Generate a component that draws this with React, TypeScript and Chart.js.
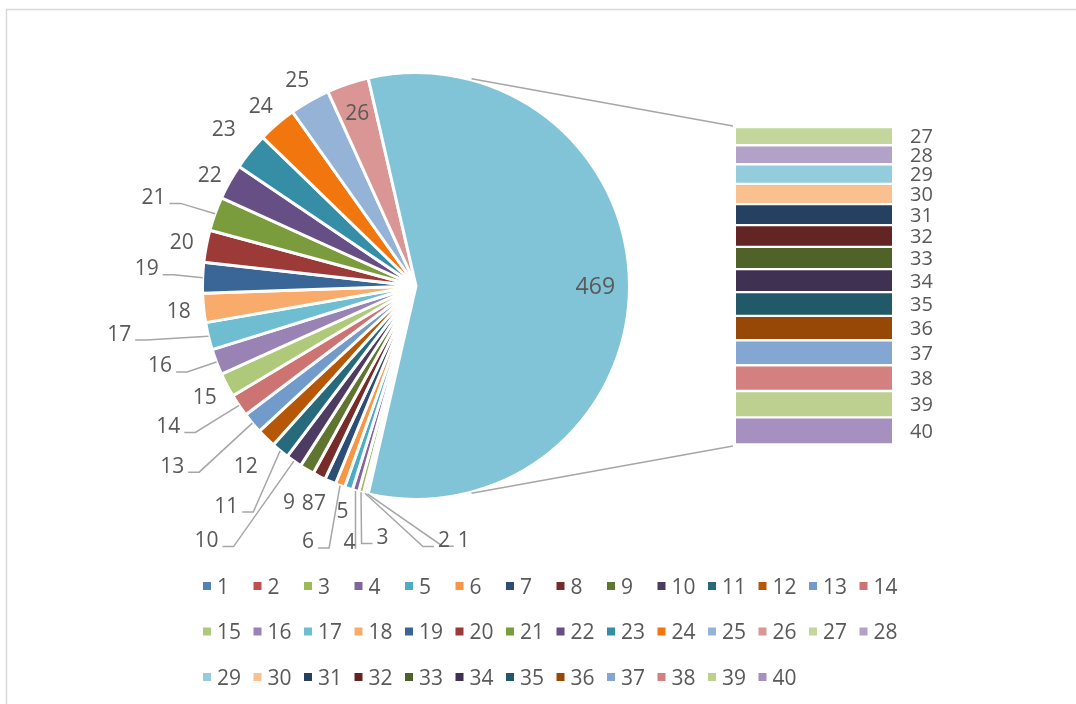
import React, { useEffect, useRef } from "react";
import { Chart, registerables } from "chart.js";

Chart.register(...registerables);

// ---------- data ----------
const pieCategories = [
  "1", "2", "3", "4", "5", "6", "7", "8", "9", "10", "11", "12", "13",
  "14", "15", "16", "17", "18", "19", "20", "21", "22", "23", "24", "25", "26",
];
const pieValues = [
  1, 2, 3, 4, 5, 6, 7, 8, 9, 10, 11, 12, 13,
  14, 15, 16, 17, 18, 19, 20, 21, 22, 23, 24, 25, 26,
];
const barCategories = ["27", "28", "29", "30", "31", "32", "33", "34", "35", "36", "37", "38", "39", "40"];
const barValues = [27, 28, 29, 30, 31, 32, 33, 34, 35, 36, 37, 38, 39, 40];
const otherLabel = "Other";

const pieColors = [
  "#4F81BD", "#C0504D", "#9BBB59", "#8064A2", "#4BACC6", "#F79646",
  "#2C4D75", "#772C2A", "#5F7530", "#4D3B62", "#276A7C", "#B65708",
  "#729ACA", "#CD7371", "#AFC97A", "#9983B5", "#6FBDD1", "#F9AB6B",
  "#3A6597", "#9C3A38", "#7A9C3C", "#654F84", "#358EA6", "#F2760E",
  "#95B3D7", "#D99694",
];
const barColors = [
  "#C3D69B", "#B3A2C7", "#93CDDD", "#FAC090", "#254061", "#632523", "#4F6228",
  "#3F3151", "#215968", "#974806", "#84A6D3", "#D58080", "#BED08F", "#A690C0",
];
const otherColor = "#82C4D7";

// aggregate of the split-off categories (the "other" slice)
const otherTotal = barValues.reduce((a, b) => a + b, 0);

// ---------- styling / label layout ----------
const FONT = "'Open Sans', Lato, sans-serif";
const TEXT = "#595959";
const LEADER = "#A6A6A6";
const insideLabels = ["26", otherLabel];
const leaderLabels = ["1", "2", "3", "4", "6", "10", "11", "13", "14", "16", "17", "19", "21"];
const labelNudges: Record<string, [number, number]> = {
  "1": [102, 21],
  "2": [85, 22],
  "3": [28, 20],
  "4": [1, 27],
  "5": [2, -2],
  "6": [-23, 32],
  "7": [0, -2],
  "8": [0, 4],
  "9": [-5, 10],
  "10": [-73, 58],
  "11": [-38, 35],
  "12": [-3, 10],
  "13": [-61, 26],
  "14": [-50, 6],
  "16": [-33, -6],
  "17": [-65, -9],
  "19": [-31, -9],
  "21": [-38, -9],
  "22": [2, 5],
  "23": [-7, -7],
};
const CONNECTOR_ANGLE = 75; // degrees from horizontal where series lines meet the pie

export default function App() {
  const pieRef = useRef<HTMLCanvasElement>(null);
  const barRef = useRef<HTMLCanvasElement>(null);

  useEffect(() => {
    if (!pieRef.current || !barRef.current) return;
    const total = pieValues.reduce((a, b) => a + b, 0) + otherTotal;
    const otherSweep = (otherTotal / total) * 360;

    const framePlugin = {
      id: "frame",
      beforeDraw(chart: any) {
        const ctx = chart.ctx;
        ctx.save();
        ctx.fillStyle = "#ffffff";
        ctx.fillRect(0, 0, chart.width, chart.height);
        ctx.strokeStyle = "#D9D9D9";
        ctx.lineWidth = 1.5;
        ctx.strokeRect(6.5, 9.5, 3000, 3000);
        ctx.restore();
      },
    };

    const pieLabelPlugin = {
      id: "pieLabels",
      afterDatasetsDraw(chart: any) {
        const ctx = chart.ctx;
        const meta = chart.getDatasetMeta(0);
        const labels = chart.data.labels as string[];
        const values = chart.data.datasets[0].data as number[];
        ctx.save();
        meta.data.forEach((arc: any, i: number) => {
          const { x, y, startAngle, endAngle, outerRadius } = arc.getProps(
            ["x", "y", "startAngle", "endAngle", "outerRadius"],
            true
          );
          const mid = (startAngle + endAngle) / 2;
          const cat = labels[i];
          const text = String(values[i]);
          const inside = insideLabels.includes(cat);
          const r = inside ? outerRadius * (cat === otherLabel ? 0.84 : 0.86) : outerRadius + 25;
          const nudge = labelNudges[cat] || [0, 0];
          const lx = x + Math.cos(mid) * r + nudge[0];
          const ly = y + Math.sin(mid) * r + nudge[1];
          const size = cat === otherLabel ? 23 : 21;
          ctx.font = `${size}px ${FONT}`;
          const w = ctx.measureText(text).width;
          if (leaderLabels.includes(cat)) {
            const ax = x + Math.cos(mid) * outerRadius;
            const ay = y + Math.sin(mid) * outerRadius;
            const ey = ly + 7;
            const gap = 4;
            const len = 11;
            ctx.beginPath();
            ctx.strokeStyle = LEADER;
            ctx.lineWidth = 1.5;
            ctx.moveTo(ax, ay);
            if (ax > lx) {
              const edge = lx + w / 2 + gap;
              const elbow = edge + len;
              if (ax <= edge) {
                ctx.lineTo(ax, ey);
              } else if (ax <= elbow) {
                ctx.lineTo(ax, ey);
                ctx.lineTo(edge, ey);
              } else {
                ctx.lineTo(elbow, ey);
                ctx.lineTo(edge, ey);
              }
            } else {
              const edge = lx - w / 2 - gap;
              const elbow = edge - len;
              if (ax >= edge) {
                ctx.lineTo(ax, ey);
              } else if (ax >= elbow) {
                ctx.lineTo(ax, ey);
                ctx.lineTo(edge, ey);
              } else {
                ctx.lineTo(elbow, ey);
                ctx.lineTo(edge, ey);
              }
            }
            ctx.stroke();
          }
          ctx.fillStyle = TEXT;
          ctx.textAlign = "center";
          ctx.textBaseline = "alphabetic";
          ctx.fillText(text, lx, ly + size * 0.36);
        });
        ctx.restore();
      },
    };

    const legendPlugin = {
      id: "gridLegend",
      afterDraw(chart: any) {
        const ctx = chart.ctx;
        const cats = [...pieCategories, ...barCategories];
        const cols = [...pieColors, ...barColors];
        const left = 203;
        const colW = 50.5;
        const top = 586;
        const rowH = 45.5;
        const perRow = 14;
        ctx.save();
        ctx.font = `21px ${FONT}`;
        ctx.textAlign = "left";
        ctx.textBaseline = "alphabetic";
        cats.forEach((c, i) => {
          const row = Math.floor(i / perRow);
          const col = i % perRow;
          const x0 = left + col * colW;
          const cy = top + row * rowH;
          ctx.fillStyle = cols[i];
          ctx.fillRect(x0, cy - 4, 8, 8);
          ctx.fillStyle = TEXT;
          ctx.fillText(c, x0 + 14, cy + 7.5);
        });
        ctx.restore();
      },
    };

    const pie = new Chart(pieRef.current, {
      type: "pie",
      data: {
        labels: [...pieCategories, otherLabel],
        datasets: [
          {
            data: [...pieValues, otherTotal],
            backgroundColor: [...pieColors, otherColor],
            borderColor: "#ffffff",
            borderWidth: 3,
            hoverBorderWidth: 3,
            hoverOffset: 0,
            offset: 0,
          },
        ],
      },
      options: {
        animation: false,
        responsive: false,
        rotation: 90 + otherSweep / 2,
        layout: { padding: { left: 201, top: 71, right: 445, bottom: 203 } },
        plugins: { legend: { display: false }, tooltip: { enabled: false } },
        events: [],
      },
      plugins: [framePlugin, pieLabelPlugin, legendPlugin],
    } as any);

    const barLabelPlugin = {
      id: "barLabels",
      afterDatasetsDraw(chart: any) {
        const ctx = chart.ctx;
        ctx.save();
        ctx.font = `20px ${FONT}`;
        ctx.fillStyle = TEXT;
        ctx.textAlign = "left";
        ctx.textBaseline = "alphabetic";
        chart.data.datasets.forEach((ds: any, i: number) => {
          const el: any = chart.getDatasetMeta(i).data[0];
          const { x, y, base, width } = el.getProps(["x", "y", "base", "width"], true);
          const cy = (y + base) / 2;
          ctx.fillText(String(ds.data[0]), x + width / 2 + 18, cy + 7.2);
        });
        ctx.restore();
      },
    };

    const connectorPlugin = {
      id: "seriesLines",
      afterDraw(chart: any) {
        const arc: any = pie.getDatasetMeta(0).data[pieValues.length];
        if (!arc) return;
        const { x, y, outerRadius } = arc.getProps(["x", "y", "outerRadius"], true);
        const a = (CONNECTOR_ANGLE * Math.PI) / 180;
        const r = outerRadius + 1;
        const area = chart.chartArea;
        const ctx = chart.ctx;
        ctx.save();
        ctx.strokeStyle = LEADER;
        ctx.lineWidth = 1.5;
        ctx.beginPath();
        ctx.moveTo(area.left - 3, area.top - 1);
        ctx.lineTo(x + r * Math.cos(-a), y + r * Math.sin(-a));
        ctx.moveTo(area.left - 3, area.bottom + 1.5);
        ctx.lineTo(x + r * Math.cos(a), y + r * Math.sin(a));
        ctx.stroke();
        ctx.restore();
      },
    };

    const bar = new Chart(barRef.current, {
      type: "bar",
      data: {
        labels: [""],
        datasets: barValues.map((v, i) => ({
          label: barCategories[i],
          data: [v],
          backgroundColor: barColors[i],
          borderColor: "#ffffff",
          borderWidth: { top: 1.5, bottom: 1.5, left: 0, right: 0 },
          borderSkipped: false,
          categoryPercentage: 1,
          barPercentage: 1,
        })),
      },
      options: {
        animation: false,
        responsive: false,
        events: [],
        layout: { padding: { left: 736, right: 184, top: 127, bottom: 259.5 } },
        scales: {
          x: { display: false, stacked: true },
          y: { display: false, stacked: true, reverse: true, min: 0, max: otherTotal },
        },
        plugins: { legend: { display: false }, tooltip: { enabled: false } },
      },
      plugins: [barLabelPlugin, connectorPlugin],
    } as any);

    return () => {
      bar.destroy();
      pie.destroy();
    };
  }, []);

  return (
    <div
      style={{
        position: "fixed",
        left: 0,
        top: 0,
        width: 1076,
        height: 704,
        overflow: "hidden",
        background: "#ffffff",
      }}
    >
      <canvas ref={pieRef} width={1076} height={704} style={{ position: "absolute", left: 0, top: 0 }} />
      <canvas ref={barRef} width={1076} height={704} style={{ position: "absolute", left: 0, top: 0 }} />
    </div>
  );
}
